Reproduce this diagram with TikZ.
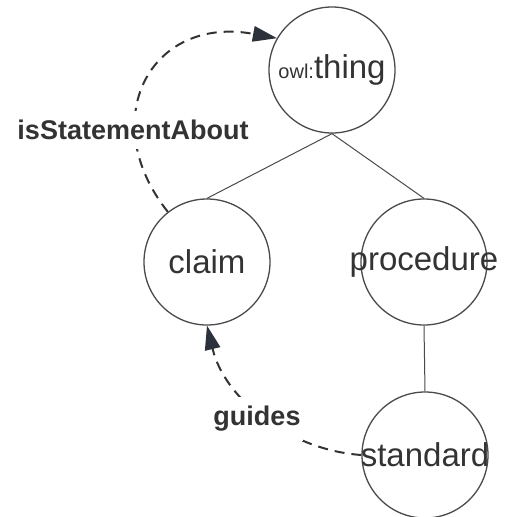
\documentclass[tikz,border=0pt]{standalone}
\usepackage{fontspec}
\setmainfont{Liberation Sans}
\usetikzlibrary{arrows.meta}
\definecolor{edgegray}{HTML}{4A4A4A}
\definecolor{inkgray}{HTML}{333333}
\definecolor{tipnavy}{HTML}{2B323C}
\tikzset{
  ball/.style={circle, draw=edgegray, line width=1.3pt, minimum size=126pt, inner sep=0pt},
  nodetext/.style={text=inkgray, font=\fontsize{33}{36}\selectfont, inner sep=0pt},
  treeline/.style={draw=edgegray, line width=1pt},
  relation/.style={draw=inkgray, line width=2pt, dash pattern=on 10pt off 7pt,
    -{Triangle[length=24pt,width=16pt,fill=tipnavy,line width=0pt]}},
  rellabel/.style={fill=white, text=inkgray, inner xsep=2pt, inner ysep=9pt,
    font=\fontsize{27}{30}\selectfont\bfseries}
}
\begin{document}
\begin{tikzpicture}[x=1pt,y=-1pt]
\useasboundingbox (0,0) rectangle (504,517);

% class circles
\node[ball] (thing) at (332,70) {};
\node[ball] (claim) at (207,262) {};
\node[ball] (procedure) at (424,262) {};
\node[ball] (standard) at (425,455) {};

% subclass links
\draw[treeline] (thing.south) -- (claim.north);
\draw[treeline] (thing.south) -- (procedure.north);
\draw[treeline] (procedure.south) -- (standard.north);

% object properties
\draw[relation] (claim.128) .. controls (95,120) and (150,15) .. (thing.150);
\draw[relation] (standard.west) .. controls (290,450) and (225,400) .. (claim.south);

\node[rellabel] (lblabout) at (133,130) {isStatementAbout};
\node[rellabel] (lblguides) at (257,419) {guides};

% class names
\node[nodetext] (thingtxt) at (thing) {{\fontsize{20}{22}\selectfont owl:}thing};
\node[nodetext] (claimtxt) at (claim) {claim};
\node[nodetext] (proctxt) at (procedure) {procedure};
\node[nodetext] (stdtxt) at (standard) {standard};
\end{tikzpicture}
\end{document}
